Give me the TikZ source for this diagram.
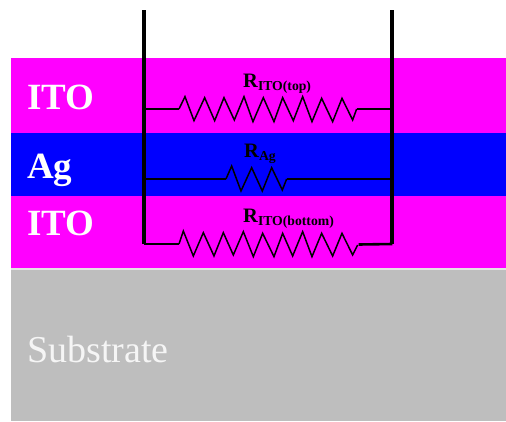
\documentclass[tikz,border=0pt]{standalone}
\usepackage{fontspec}
\setmainfont{Liberation Serif}
\definecolor{ito}{HTML}{FF00FF}
\definecolor{agblue}{HTML}{0000FF}
\definecolor{subgray}{HTML}{BEBEBE}
\definecolor{seam}{HTML}{E4E4E4}
\newcommand{\rlabel}[1]{\fontsize{20.5}{22}\selectfont\bfseries R\raisebox{-3.5pt}{\fontsize{13.7}{15}\selectfont #1}}
\tikzset{
  layertext/.style={anchor=base west,inner sep=0pt,text=white,font=\fontsize{37}{40}\selectfont\bfseries},
  subtext/.style={anchor=base west,inner sep=0pt,text=white!96!black,font=\fontsize{38}{40}\selectfont},
  rtext/.style={anchor=base west,inner sep=0pt,text=black},
  wire/.style={draw=black,line width=2.6pt,line join=miter},
  rail/.style={draw=black,line width=4pt,line join=miter},
  zig/.style={draw=black,line width=1.5pt,line join=miter}
}
\begin{document}
\begin{tikzpicture}[x=1pt,y=-1pt]
\useasboundingbox (0,0) rectangle (506,421);
\fill[white] (0,0) rectangle (506,421);
\fill[ito] (11,58) rectangle (506,133);
\fill[agblue] (11,133) rectangle (506,196);
\fill[ito] (11,196) rectangle (506,268);
\fill[subgray] (11,270) rectangle (506,421);
\fill[seam] (11,268) rectangle (506,270);
\node[layertext] (ito1) at (27,109.5) {ITO};
\node[layertext] (ag) at (27,178) {Ag};
\node[layertext] (ito2) at (27,235) {ITO};
\node[subtext] (sub) at (27,362) {Substrate};
\node[rtext] (r1) at (243,87) {\rlabel{ITO(top)}};
\node[rtext] (r2) at (244,157) {\rlabel{Ag}};
\node[rtext] (r3) at (243,222) {\rlabel{ITO(bottom)}};
\coordinate (ltop) at (143.5,10);
\coordinate (rtop) at (392.3,10);
\coordinate (lbot) at (143.5,244);
\coordinate (rbot) at (392.3,244);
\coordinate (l1) at (143.5,109);
\coordinate (r1end) at (392.3,109);
\coordinate (l2) at (143.5,179);
\coordinate (r2end) at (392.3,179);
\draw[rail] (ltop) -- (lbot);
\draw[rail] (rtop) -- (rbot);
% top resistor
\draw[wire] (l1) -- (179,109);
\draw[wire] (356.7,109) -- (r1end);
\begin{scope}[xshift=130pt,yshift=0pt,x=0.3333pt,y=-0.3333pt]
\draw[zig] (147,327)--(165,290)--(192,362)--(224,293)--(254,362)--(282,293)--(313,360)--(342,290)--(369,365)--(400,293)--(432,365)--(458,293)--(490,362)--(518,290)--(546,365)--(575,295)--(608,365)--(636,295)--(668,360)--(680,327);
\end{scope}
% middle resistor
\draw[wire] (l2) -- (226,179);
\draw[wire] (286.7,179) -- (r2end);
\begin{scope}[xshift=130pt,yshift=-130pt,x=0.3333pt,y=-0.3333pt]
\draw[zig] (288,147)--(305,108)--(333,183)--(365,113)--(397,183)--(425,113)--(457,180)--(470,147);
\end{scope}
% bottom resistor
\draw[wire] (lbot) -- (179,244);
\draw[wire] (358.7,244.5) -- (rbot);
\begin{scope}[xshift=130pt,yshift=-130pt,x=0.3333pt,y=-0.3333pt]
\draw[zig] (147,342)--(160,303)--(190,378)--(220,308)--(252,378)--(280,308)--(310,375)--(340,305)--(370,380)--(398,310)--(432,380)--(458,310)--(488,378)--(518,305)--(546,380)--(575,310)--(608,378)--(636,310)--(668,375)--(683,345);
\end{scope}
\end{tikzpicture}
\end{document}
